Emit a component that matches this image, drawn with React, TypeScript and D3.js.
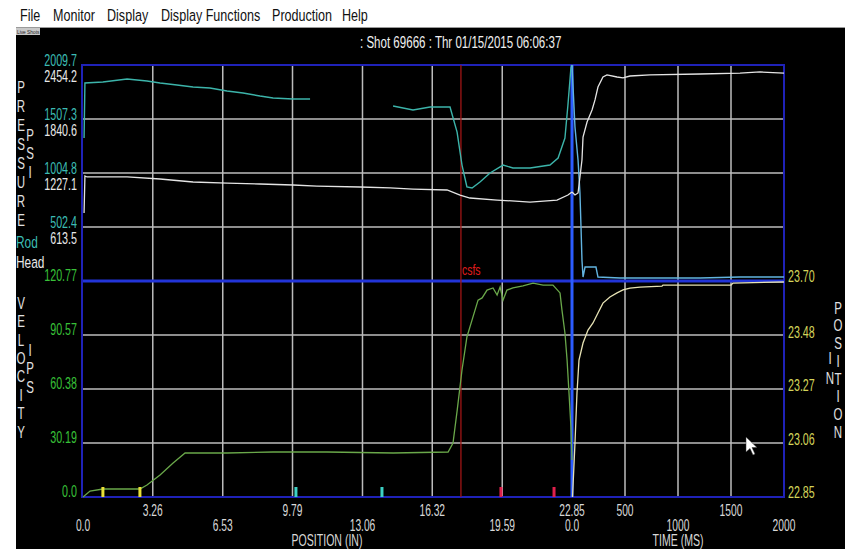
import React from 'react';
import * as d3 from 'd3';

// ---------- tick values ----------
const positionTicks = [0, 3.26, 6.53, 9.79, 13.06, 16.32, 19.59, 22.85];
const timeTicks = [0, 500, 1000, 1500, 2000];
const rodTicks = [2009.7, 1507.3, 1004.8, 502.4];
const headTicks = [2454.2, 1840.6, 1227.1, 613.5];
const velocityTicks = [120.77, 90.57, 60.38, 30.19, 0];
const plungerTicks = [23.7, 23.48, 23.27, 23.06, 22.85];

const menuItems = ['File', 'Monitor', 'Display', 'Display Functions', 'Production', 'Help'];
const shotTitle = ': Shot 69666 : Thr  01/15/2015  06:06:37';

// ---------- series ----------
// rod pressure vs position [in, psi] (two segments)
const rodPosA: [number, number][] = [
  [0.05, 1330], [0.09, 1842], [0.93, 1851], [2.06, 1879], [2.99, 1861], [3.6, 1842],
  [4.39, 1824], [5.14, 1805], [5.93, 1796], [6.73, 1768], [7.48, 1749], [8.27, 1721],
  [8.88, 1703], [9.81, 1693], [10.61, 1693],
];
const rodPosB: [number, number][] = [
  [14.49, 1628], [15.42, 1591], [16.22, 1619], [17.15, 1619], [17.48, 1386], [17.71, 1079],
  [17.94, 875], [18.18, 865], [18.55, 921], [19.02, 1005], [19.63, 1079], [20.09, 1051],
  [20.89, 1051], [21.82, 1079], [22.2, 1144], [22.52, 1330], [22.66, 1638], [22.8, 1982],
  [22.85, 2010],
];
// rod pressure vs time [ms, psi]
const rodTime: [number, number][] = [
  [0, 2010], [28, 1433], [57, 1126], [75, 819], [85, 502], [94, 195], [104, 37], [123, 130],
  [226, 130], [245, 37], [453, 28], [1208, 28], [1585, 37], [2000, 37],
];
// head pressure vs position [in, psi]
const headPos: [number, number][] = [
  [0.05, 773], [0.09, 1193], [0.19, 1182], [2.06, 1182], [3.6, 1159], [5.14, 1125],
  [6.73, 1113], [8.27, 1102], [9.81, 1091], [10.93, 1079], [12.94, 1068], [14.35, 1057],
  [15.42, 1045], [17.01, 1034], [17.62, 977], [18.08, 943], [19.35, 920], [20.89, 897],
  [22.15, 920], [22.66, 977], [22.85, 1011],
];
// head pressure vs time [ms, psi]
const headTime: [number, number][] = [
  [0, 1011], [28, 977], [57, 1000], [75, 1182], [94, 1375], [104, 1636], [142, 1807],
  [189, 1943], [217, 2057], [245, 2204], [292, 2318], [330, 2341], [425, 2318], [481, 2307],
  [547, 2329], [736, 2341], [1208, 2352], [1585, 2363], [1774, 2375], [2000, 2363],
];
// velocity vs position [in, ips]
const velocityPos: [number, number][] = [
  [0, 0], [0.33, 3.35], [0.93, 4.47], [2.06, 4.47], [2.66, 4.47], [2.99, 6.71], [3.6, 12.3],
  [4.21, 19.01], [4.77, 24.6], [6.73, 24.6], [8.88, 25.16], [11.4, 25.16], [14.49, 24.6],
  [17.06, 25.16], [17.29, 30.19], [17.48, 48], [17.71, 71], [17.94, 89.46], [18.22, 100.6],
  [18.46, 110.1], [18.65, 111.3], [18.88, 115.7], [19.16, 116.9], [19.35, 112.9],
  [19.49, 117.4], [19.63, 110.1], [19.81, 115.7], [20.09, 116.9], [20.56, 118],
  [21.03, 119.6], [21.5, 118.5], [21.96, 118.5], [22.29, 114.1], [22.38, 104.6],
  [22.52, 91.7], [22.62, 76.6], [22.71, 58.1], [22.8, 39.1], [22.85, 20.7],
];
// plunger position vs time [ms, in]
const plungerTime: [number, number][] = [
  [5, 22.85], [28, 23.062], [47, 23.259], [66, 23.389], [104, 23.456], [151, 23.507],
  [198, 23.535], [245, 23.574], [292, 23.613], [358, 23.637], [425, 23.653], [481, 23.665],
  [547, 23.672], [642, 23.676], [849, 23.68], [858, 23.684], [1500, 23.684], [1519, 23.692],
  [2000, 23.696],
];
// event markers (position, in)
const yellowMarks = [0.93, 2.66];
const cyanMarks = [9.95, 13.97];
const redMarks = [19.53, 22.01];
const csfsPosition = 17.66;

// ---------- layout ----------
const W = 845;
const H = 549;
const PL = 83;
const PR = 784;
const SPLIT = 572;
const PT = 65;
const PM = 281;
const PB = 497;

const xPos = d3.scaleLinear().domain([0, 22.85]).range([PL, SPLIT]);
const xTime = d3.scaleLinear().domain([0, 2000]).range([SPLIT, PR]);
const yRod = d3.scaleLinear().domain([0, 2009.7]).range([PM, PT]);
const yHead = d3.scaleLinear().domain([0, 2454.2]).range([PM, PT]);
const yVel = d3.scaleLinear().domain([0, 120.77]).range([PB, PM]);
const yPlg = d3.scaleLinear().domain([22.85, 23.7]).range([PB, PM]);

const FONT = 'Liberation Sans, Arial, sans-serif';

function T({ x, y, children, fill = '#d8d8d8', size = 16, anchor = 'start', sx = 0.64 }: any) {
  return (
    <text
      transform={`translate(${x},${y}) scale(${sx},1)`}
      textAnchor={anchor}
      dominantBaseline="central"
      fontSize={size}
      fontFamily={FONT}
      fill={fill}
    >
      {children}
    </text>
  );
}

function VText({ x, y0, step, text, fill = '#e0e0e0' }: any) {
  return (
    <g>
      {text.split('').map((c: string, i: number) => (
        <T key={i} x={x} y={y0 + i * step} anchor="middle" size={16} sx={0.72} fill={fill}>
          {c}
        </T>
      ))}
    </g>
  );
}

const fmtPos = (v: number) => (v === 0 ? '0.0' : v.toFixed(2));
const fmtTime = (v: number) => (v === 0 ? '0.0' : String(v));

export default function App() {
  const lineP = (ys: any) => d3.line<[number, number]>().x((d) => xPos(d[0])).y((d) => ys(d[1]));
  const lineT = (ys: any) => d3.line<[number, number]>().x((d) => xTime(d[0])).y((d) => ys(d[1]));
  const menuX = [20, 53, 107, 161, 272, 342];
  const gridCol = '#bcbcbc';
  const blue = '#1f22b8';

  const vGrid = [
    ...positionTicks.slice(1, -1).map((v) => xPos(v)),
    ...timeTicks.slice(1, -1).map((v) => xTime(v)),
  ];

  return (
    <svg
      width={W}
      height={H}
      style={{ position: 'absolute', left: 0, top: 0, display: 'block' }}
    >
      <rect x={0} y={0} width={W} height={H} fill="#ffffff" />
      {/* menu */}
      {menuItems.map((m, i) => (
        <T key={m} x={menuX[i]} y={15} size={17} sx={0.74} fill="#111">
          {m}
        </T>
      ))}
      <line x1={16} x2={W} y1={27.5} y2={27.5} stroke="#9a9a9a" />
      <rect x={16} y={28} width={W - 16} height={H - 28} fill="#000" />
      <rect x={16} y={28} width={24} height={7} fill="#c8c8c8" />
      <T x={17} y={31.5} size={6} sx={0.8} fill="#222">Live Shots</T>
      <T x={360} y={42} size={17} sx={0.68} fill="#f0f0f0">{shotTitle}</T>

      {/* grid */}
      {vGrid.map((x, i) => (
        <line key={'vg' + i} x1={x} x2={x} y1={PT} y2={PB} stroke={gridCol} strokeWidth={1.5} />
      ))}
      {rodTicks.slice(1).map((v, i) => (
        <line key={'hp' + i} x1={PL} x2={PR} y1={yRod(v)} y2={yRod(v)} stroke={gridCol} strokeWidth={1.5} />
      ))}
      {velocityTicks.slice(1, -1).map((v, i) => (
        <line key={'hv' + i} x1={PL} x2={PR} y1={yVel(v)} y2={yVel(v)} stroke={gridCol} strokeWidth={1.5} />
      ))}

      {/* borders */}
      <rect x={PL - 1} y={PT} width={PR - PL + 1} height={PB - PT} fill="none" stroke={blue} strokeWidth={2} />
      <line x1={PL} x2={PR} y1={PM} y2={PM} stroke="#2234d8" strokeWidth={3} />

      {/* csfs */}
      <line x1={xPos(csfsPosition)} x2={xPos(csfsPosition)} y1={PT} y2={PB} stroke="#a01616" strokeWidth={1.3} />
      <T x={xPos(csfsPosition) + 1} y={270} size={15} sx={0.7} fill="#e01c1c">csfs</T>

      {/* split cursor */}
      <line x1={SPLIT} x2={SPLIT} y1={PT} y2={PB} stroke="#2c5cff" strokeWidth={3} />

      {/* traces */}
      <path d={lineP(yRod)(rodPosA) || ''} fill="none" stroke="#3cb4aa" strokeWidth={1.4} />
      <path d={lineP(yRod)(rodPosB) || ''} fill="none" stroke="#3cb4aa" strokeWidth={1.4} />
      <path d={lineT(yRod)(rodTime) || ''} fill="none" stroke="#62b4e0" strokeWidth={1.4} />
      <path d={lineP(yHead)(headPos) || ''} fill="none" stroke="#e4e4e4" strokeWidth={1.3} />
      <path d={lineT(yHead)(headTime) || ''} fill="none" stroke="#e4e4e4" strokeWidth={1.3} />
      <path d={lineP(yVel)(velocityPos) || ''} fill="none" stroke="#6aa84a" strokeWidth={1.3} />
      <path d={lineT(yPlg)(plungerTime) || ''} fill="none" stroke="#e6e2b4" strokeWidth={1.3} />

      {/* markers */}
      {yellowMarks.map((v, i) => (
        <rect key={'ym' + i} x={xPos(v) - 1.5} y={487} width={3} height={10} fill="#e8e038" />
      ))}
      {cyanMarks.map((v, i) => (
        <rect key={'cm' + i} x={xPos(v) - 1.5} y={487} width={3} height={10} fill="#3cd0c4" />
      ))}
      {redMarks.map((v, i) => (
        <rect key={'rm' + i} x={xPos(v) - 1.5} y={487} width={3} height={10} fill="#e0204c" />
      ))}

      {/* left pressure labels */}
      {rodTicks.map((v, i) => (
        <T key={'rl' + i} x={77} y={yRod(v) - 5} anchor="end" size={17} sx={0.63} fill="#3cbcb4">
          {v.toFixed(1)}
        </T>
      ))}
      {headTicks.map((v, i) => (
        <T key={'hl' + i} x={77} y={yHead(v) + 11} anchor="end" size={17} sx={0.63} fill="#e8e8e8">
          {v.toFixed(1)}
        </T>
      ))}
      {velocityTicks.map((v, i) => (
        <T key={'vl' + i} x={77} y={yVel(v) - 6} anchor="end" size={17} sx={0.63} fill="#38c038">
          {v === 0 ? '0.0' : v.toFixed(2)}
        </T>
      ))}
      {plungerTicks.map((v, i) => (
        <T key={'pl' + i} x={788} y={yPlg(v) - 5} size={17} sx={0.63} fill="#d4d45a">
          {v.toFixed(2)}
        </T>
      ))}
      <T x={16} y={242} size={17} sx={0.7} fill="#3cbcb4">Rod</T>
      <T x={16} y={262} size={17} sx={0.7} fill="#e8e8e8">Head</T>

      {/* vertical titles */}
      <VText x={21} y0={87} step={19} text="PRESSURE" />
      <VText x={30} y0={135} step={18.5} text="PSI" />
      <VText x={21} y0={303} step={18.4} text="VELOCITY" />
      <VText x={30} y0={350} step={18.5} text="IPS" />
      <VText x={838} y0={308} step={17.7} text="POSITION" />
      <VText x={830} y0={358} step={20} text="IN" />

      {/* bottom ticks */}
      {positionTicks.map((v, i) => (
        <T key={'pt' + i} x={xPos(v)} y={i % 2 ? 511 : 526} anchor="middle">
          {fmtPos(v)}
        </T>
      ))}
      {timeTicks.map((v, i) => (
        <T key={'tt' + i} x={xTime(v)} y={i % 2 ? 511 : 526} anchor="middle">
          {fmtTime(v)}
        </T>
      ))}
      <T x={327} y={541} anchor="middle" sx={0.66}>POSITION (IN)</T>
      <T x={678} y={541} anchor="middle" sx={0.66}>TIME (MS)</T>

      {/* mouse cursor */}
      <path d="M746,437 L746,452 L750,448.5 L753,455 L755,454 L752,447.5 L757,447.5 Z" fill="#fff" stroke="#333" strokeWidth={0.5} />
    </svg>
  );
}
